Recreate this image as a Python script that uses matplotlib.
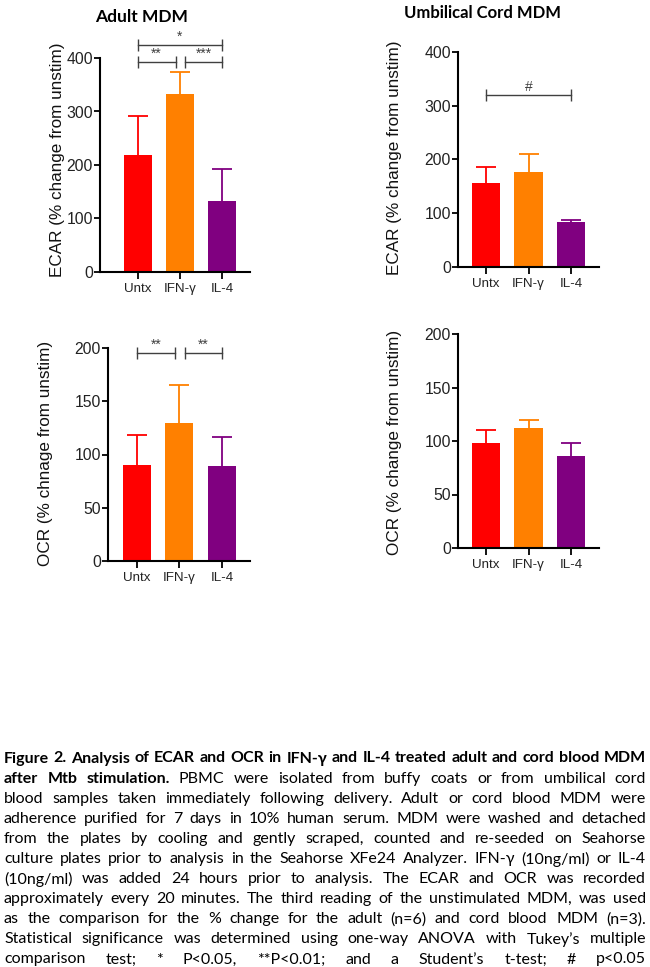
import matplotlib
import matplotlib.pyplot as plt
from matplotlib import font_manager


matplotlib.use('Agg')
W, H = 650, 967

groups = ['Untx', 'IFN-γ', 'IL-4']
colors = ['#ff0000', '#ff8000', '#800080']

adult_ecar = [218, 333, 133]
adult_ecar_err = [73, 41, 60]
cord_ecar = [157, 176, 83]
cord_ecar_err = [29, 35, 5]
adult_ocr = [90, 130, 89]
adult_ocr_err = [28, 35, 27]
cord_ocr = [98, 112, 86]
cord_ocr_err = [12, 8, 12]

# comparisons: (group a, group b, bracket height, label)
adult_ecar_sig = [(0, 2, 424, '*'), (0, 1, 392, '**'), (1, 2, 392, '***')]
cord_ecar_sig = [(0, 2, 320, '#')]
adult_ocr_sig = [(0, 1, 195, '**'), (1, 2, 195, '**')]

caption = [
    [('Figure 2. Analysis of ECAR and OCR in IFN-γ and IL-4 treated adult and cord blood MDM', 'bold')],
    [('after Mtb stimulation.', 'bold'), ('PBMC were isolated from buffy coats or from umbilical cord', 'normal')],
    [('blood samples taken immediately following delivery. Adult or cord blood MDM were', 'normal')],
    [('adherence purified for 7 days in 10% human serum. MDM were washed and detached', 'normal')],
    [('from the plates by cooling and gently scraped, counted and re-seeded on Seahorse', 'normal')],
    [('culture plates prior to analysis in the Seahorse XFe24 Analyzer. IFN-γ (10ng/ml) or IL-4', 'normal')],
    [('(10ng/ml) was added 24 hours prior to analysis. The ECAR and OCR was recorded', 'normal')],
    [('approximately every 20 minutes. The third reading of the unstimulated MDM, was used', 'normal')],
    [('as the comparison for the % change for the adult (n=6) and cord blood MDM (n=3).', 'normal')],
    [('Statistical significance was determined using one-way ANOVA with Tukey\u2019s multiple', 'normal')],
    [('comparison test; * P<0.05, **P<0.01; and a Student\u2019s t-test; # p<0.05', 'normal')],
]

installed = {f.name for f in font_manager.fontManager.ttflist}
TICK_FONT = 'Liberation Sans'
if 'Liberation Sans Narrow' in installed:
    XLAB_FONT, XLAB_SIZE = 'Liberation Sans Narrow', 10.5
else:
    XLAB_FONT, XLAB_SIZE = 'Liberation Sans', 9.6

fig = plt.figure(figsize=(W / 100, H / 100), dpi=100)


def panel(px, vals, errs, ymax, step, xleft, ylabel, label_pos, sig=()):
    l, r, b, t = px
    ax = fig.add_axes([l / W, 1 - b / H, (r - l) / W, (b - t) / H])
    x = list(range(len(vals)))
    for xi, v, e, c in zip(x, vals, errs, colors):
        ax.errorbar(xi, v, yerr=[[0], [e]], fmt='none', ecolor=c,
                    elinewidth=1.3, capsize=0, zorder=1)
        ax.plot(xi, v + e, marker='_', ms=14, mew=1.3, color=c, zorder=1)
    ax.bar(x, vals, width=0.66, color=colors, zorder=2)
    ax.set_xlim(xleft, 2.66)
    ax.set_ylim(0, ymax)
    ax.set_yticks(range(0, ymax + 1, step))
    ax.set_xticks(x)
    ax.set_xticklabels(groups, fontfamily=XLAB_FONT, fontsize=XLAB_SIZE, color='#222222')
    for lab in ax.get_yticklabels():
        lab.set_fontfamily(TICK_FONT)
        lab.set_fontsize(11.3)
        lab.set_color('#222222')
    for s in ['top', 'right']:
        ax.spines[s].set_visible(False)
    for s in ['left', 'bottom']:
        ax.spines[s].set_linewidth(1.5)
    ax.tick_params(axis='y', length=4, width=1.3, pad=1)
    ax.tick_params(axis='x', length=5, width=1.3, pad=3)
    ax.patch.set_alpha(0)

    for a, b_, h, txt in sig:
        x1 = a + (0.12 if a == 1 else 0.0)
        x2 = b_ - (0.1 if b_ == 1 else 0.0)
        ax.plot([x1, x2], [h, h], color='#404040', lw=1, marker='|', ms=8,
                mew=1, clip_on=False)
        ax.annotate(txt, ((x1 + x2) / 2, h), xytext=(0, 1), textcoords='offset points',
                    ha='center', va='bottom', fontsize=10, color='#404040',
                    fontfamily=TICK_FONT, annotation_clip=False)

    fig.text(label_pos[0] / W, 1 - label_pos[1] / H, ylabel, rotation=90,
             ha='center', va='center', fontsize=12.3, fontfamily=TICK_FONT, color='#111111')
    return ax


panel((100, 250, 272, 58), adult_ecar, adult_ecar_err, 400, 100, -0.89,
      'ECAR (% change from unstim)', (58, 160), adult_ecar_sig)
panel((458, 599, 267, 52), cord_ecar, cord_ecar_err, 400, 100, -0.66,
      'ECAR (% change from unstim)', (395, 158), cord_ecar_sig)
panel((108, 250, 561, 348), adult_ocr, adult_ocr_err, 200, 50, -0.68,
      'OCR (% chnage from unstim)', (46, 453), adult_ocr_sig)
panel((458, 599, 548, 334), cord_ocr, cord_ocr_err, 200, 50, -0.66,
      'OCR (% change from unstim)', (395, 442))

fig.text(142 / W, 1 - 17 / H, 'Adult MDM', ha='center', va='center',
         fontsize=12.5, fontweight='bold', fontfamily='Lato')
fig.text(482 / W, 1 - 13 / H, 'Umbilical Cord MDM', ha='center', va='center',
         fontsize=12, fontweight='bold', fontfamily='Lato')

# justified caption, drawn word by word
renderer = fig.canvas.get_renderer()
left_px, right_px = 4, 646
avail = right_px - left_px
cap_font = 'Lato'


def measure(word, weight, size):
    t = fig.text(0, 0, word, fontsize=size, fontweight=weight, fontfamily=cap_font)
    w = t.get_window_extent(renderer).width
    t.remove()
    return w


def fit_size(lines, start=11.5):
    size = start
    while size > 8:
        space = measure('a a', 'normal', size) - 2 * measure('a', 'normal', size)
        widest = 0
        for line in lines:
            words = [(w, wt) for seg, wt in line for w in seg.split()]
            natural = sum(measure(w, wt, size) for w, wt in words) + space * (len(words) - 1)
            widest = max(widest, natural)
        if widest <= avail:
            break
        size -= 0.25
    return size


body_size = fit_size(caption[1:])
head_size = fit_size(caption[:1], body_size)

y0, dy = 757, 20.1
for i, line in enumerate(caption):
    size = head_size if i == 0 else body_size
    words = [(w, wt) for seg, wt in line for w in seg.split()]
    widths = [measure(w, wt, size) for w, wt in words]
    gap = (avail - sum(widths)) / (len(words) - 1)
    xpos = left_px
    for (w, wt), wd in zip(words, widths):
        fig.text(xpos / W, 1 - (y0 + i * dy) / H, w, fontsize=size, fontweight=wt,
                 fontfamily=cap_font, ha='left', va='center_baseline', color='black')
        xpos += wd + gap

fig.savefig('out.png', dpi=100)
